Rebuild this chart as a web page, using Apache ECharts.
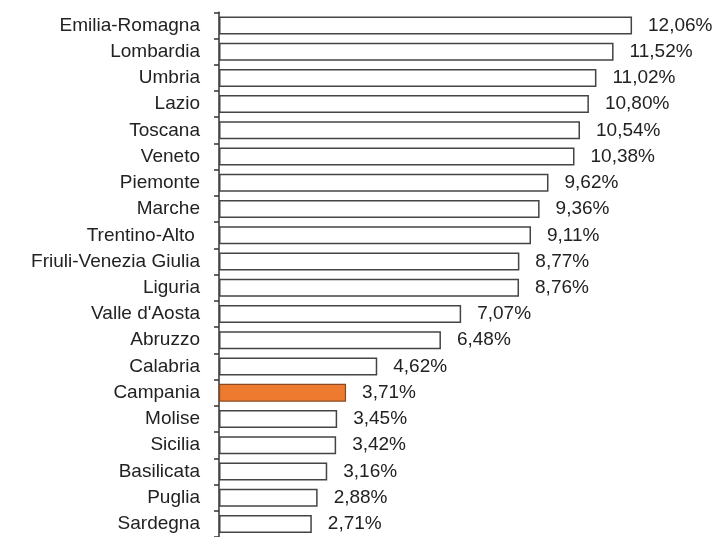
<!DOCTYPE html>
<html>
<head>
<meta charset="utf-8">
<script src="https://cdn.jsdelivr.net/npm/echarts@6/dist/echarts.min.js"></script>
<style>
  html, body { margin: 0; padding: 0; background: #fff; }
  #chart { width: 722px; height: 537px; }
</style>
</head>
<body>
<div id="chart"></div>
<script>
// regioni, dall'alto verso il basso
const regions = [
  'Emilia-Romagna', 'Lombardia', 'Umbria', 'Lazio', 'Toscana', 'Veneto',
  'Piemonte', 'Marche', 'Trentino-Alto ', 'Friuli-Venezia Giulia', 'Liguria',
  "Valle d'Aosta", 'Abruzzo', 'Calabria', 'Campania', 'Molise', 'Sicilia',
  'Basilicata', 'Puglia', 'Sardegna'
]
const values = [
  12.06, 11.52, 11.02, 10.80, 10.54, 10.38, 9.62, 9.36, 9.11, 8.77, 8.76,
  7.07, 6.48, 4.62, 3.71, 3.45, 3.42, 3.16, 2.88, 2.71
]
const highlight = 'Campania'

const chart = echarts.init(document.getElementById('chart'))

const fontFamily = '"Liberation Sans", Arial, sans-serif'

chart.setOption({
  animation: false,
  grid: { left: 219, top: 12.3, width: 479.5, height: 527.2, containLabel: false },
  xAxis: {
    type: 'value',
    min: 0,
    max: 14,
    show: false
  },
  yAxis: {
    type: 'category',
    inverse: true,
    data: regions,
    axisLine: { show: true, lineStyle: { color: '#333', width: 1.5 } },
    axisTick: { show: true, inside: false, length: 5, lineStyle: { color: '#333', width: 1.5 } },
    axisLabel: { margin: 19, color: '#222', fontSize: 19, fontFamily },
    splitLine: { show: false }
  },
  series: [
    {
      type: 'bar',
      barWidth: 18,
      data: values.map((v, i) => ({
        value: v,
        itemStyle: regions[i] === highlight
          ? { color: '#ee7a2f', borderColor: '#8a4a20', borderWidth: 1.2 }
          : { color: '#ffffff', borderColor: '#444', borderWidth: 1.5 }
      })),
      label: {
        show: true,
        position: 'right',
        distance: 16,
        color: '#222',
        fontSize: 19,
        fontFamily,
        formatter: p => p.value.toFixed(2).replace('.', ',') + '%'
      }
    }
  ]
})
</script>
</body>
</html>
